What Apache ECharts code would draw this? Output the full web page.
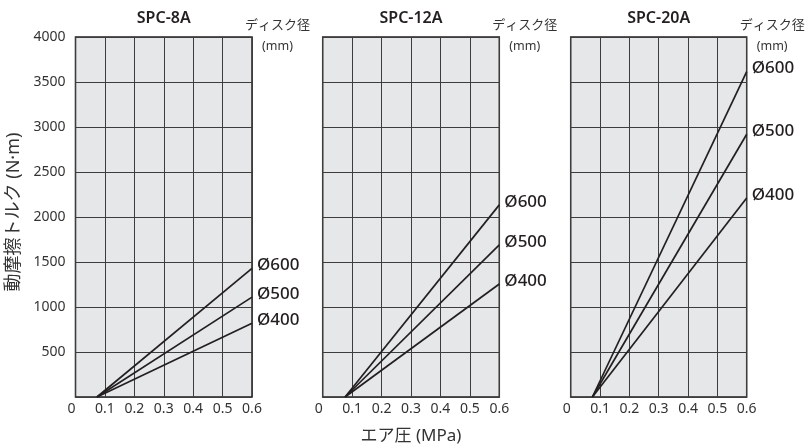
<!DOCTYPE html>
<html><head><meta charset="utf-8">
<script src="https://cdn.jsdelivr.net/npm/echarts@6/dist/echarts.min.js"></script>
<style>html,body{margin:0;padding:0;background:#fff}#c{width:806px;height:445px}</style>
</head><body><div id="c"></div>
<script>
const panelTitles = ['SPC-8A', 'SPC-12A', 'SPC-20A'];
const diskLabels = ['Ø600', 'Ø500', 'Ø400'];
const xTicks = [0, 0.1, 0.2, 0.3, 0.4, 0.5, 0.6];
const yTicks = [0, 500, 1000, 1500, 2000, 2500, 3000, 3500, 4000];
// start pressure (torque 0) and torque at 0.6 MPa for each disk size
const startX = [0.073, 0.076, 0.074];
const endX = 0.6;
const spc8A = [1430, 1110, 820];
const spc12A = [2135, 1690, 1255];
const spc20A = [3615, 2920, 2210];
const panelValues = [spc8A, spc12A, spc20A];

const FONT = '"Noto Sans", "Noto Sans CJK JP", sans-serif';
const ink = '#231f20';
const grids = [
  {left: 75.5, top: 37, width: 176.5, height: 360},
  {left: 322.7, top: 37, width: 176.6, height: 360},
  {left: 570.7, top: 37, width: 176, height: 360}
];
const option = {
  animation: false,
  backgroundColor: '#fff',
  textStyle: {fontFamily: FONT},
  grid: grids.map(g => Object.assign({show: true, backgroundColor: '#e6e7e8', borderColor: ink, borderWidth: 1.5, containLabel: false}, g)),
  xAxis: grids.map((g, i) => ({
    type: 'value', gridIndex: i, min: 0, max: 0.6, interval: 0.1,
    axisLine: {show: false}, axisTick: {show: false},
    splitLine: {show: true, lineStyle: {color: '#3d3d3d', width: 1}},
    axisLabel: {fontSize: 14, color: '#333', margin: 5, fontFamily: FONT, alignMinLabel: 'right',
      formatter: v => xTicks.find(t => Math.abs(t - v) < 1e-6) === 0 ? '0' : String(Math.round(v * 10) / 10)}
  })),
  yAxis: grids.map((g, i) => ({
    type: 'value', gridIndex: i, min: 0, max: 4000, interval: 500,
    axisLine: {show: false}, axisTick: {show: false},
    splitLine: {show: true, lineStyle: {color: '#3d3d3d', width: 1}},
    axisLabel: {show: i === 0, fontSize: 14, color: '#333', margin: 10, fontFamily: FONT, showMinLabel: false,
      formatter: v => String(v)}
  })),
  series: [],
  graphic: []
};
panelValues.forEach((vals, p) => {
  vals.forEach((v, k) => {
    option.series.push({
      type: 'line', xAxisIndex: p, yAxisIndex: p, symbol: 'none', silent: true,
      data: [[startX[p], 0], [endX, v]],
      lineStyle: {color: ink, width: 1.7},
      endLabel: {show: true, formatter: diskLabels[k], fontSize: 17, color: ink, fontFamily: FONT, fontWeight: 500, distance: 5, offset: [0, -3]}
    });
  });
  const cx = grids[p].left + grids[p].width / 2;
  const rx = grids[p].left + grids[p].width;
  option.graphic.push({type: 'text', x: cx, y: 18, style: {text: panelTitles[p], fontSize: 16, fontWeight: 600, fill: ink, fontFamily: FONT, align: 'center', verticalAlign: 'middle'}});
  option.graphic.push({type: 'text', x: rx - 7, y: 25, style: {text: 'ディスク径', fontSize: 13, fill: '#333', fontFamily: FONT, verticalAlign: 'middle'}});
  option.graphic.push({type: 'text', x: rx + 10, y: 46, style: {text: '(mm)', fontSize: 12.5, fill: '#333', fontFamily: FONT, verticalAlign: 'middle'}});
});
option.graphic.push({type: 'text', x: 14, y: 212, rotation: Math.PI / 2, style: {text: '動摩擦トルク (N·m)', fontSize: 18, fill: '#333', fontFamily: FONT, align: 'center', verticalAlign: 'middle'}});
option.graphic.push({type: 'text', x: 411, y: 436, style: {text: 'エア圧 (MPa)', fontSize: 17, fill: '#333', fontFamily: FONT, align: 'center', verticalAlign: 'middle'}});
const chart = echarts.init(document.getElementById('c'), null, {renderer: 'canvas'});
chart.setOption(option);
</script></body></html>
